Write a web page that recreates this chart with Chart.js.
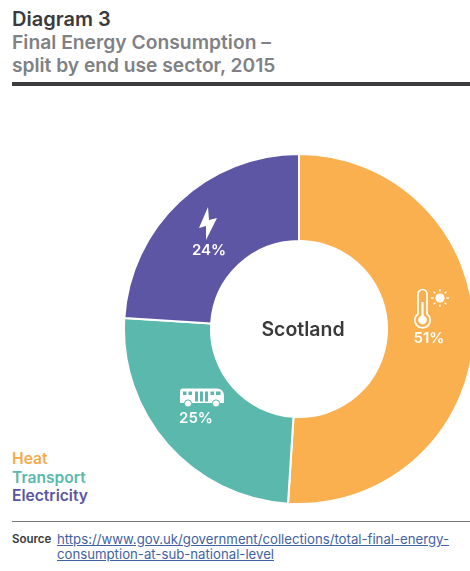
<!DOCTYPE html>
<html>
<head>
<meta charset="utf-8">
<script src="https://cdn.jsdelivr.net/npm/chart.js@4"></script>
<style>
  html, body { margin: 0; padding: 0; background: #fff; }
  body { position: relative; width: 470px; height: 571px; overflow: hidden; font-family: Inter, Lato, sans-serif; }
  .t { position: absolute; white-space: nowrap; line-height: 1; font-weight: 600; }
  #ring { position: absolute; left: 123px; top: 153px; width: 352px; height: 352px; }
  .rule { position: absolute; left: 12px; right: 0; }
  .ico { position: absolute; overflow: visible; }
  a { color: #3f62a3; text-decoration: underline; font-weight: 400; }
</style>
</head>
<body>
<div class="t" style="left:12px;top:9px;font-size:20px;color:#3a3a3c">Diagram 3</div>
<div class="t" style="left:12px;top:33px;font-size:19.3px;color:#808184">Final Energy Consumption –</div>
<div class="t" style="left:12px;top:56px;font-size:19.2px;color:#808184">split by end use sector, 2015</div>
<div class="rule" style="top:82px;height:4px;background:#3d3d3f"></div>

<div id="ring"><canvas id="c" width="352" height="352"></canvas></div>

<div class="t" style="left:303px;top:320px;font-size:19.5px;color:#3a3a3c;transform:translateX(-50%)">Scotland</div>

<!-- Sector icons -->
<svg class="ico" style="left:199px;top:207px" width="18" height="33" viewBox="0 0 18 33">
  <path d="M9 0 L0 21 L7 19 L7 33 L18 11 L10 13 Z" fill="#fff"/>
</svg>
<svg class="ico" style="left:413px;top:288px" width="40" height="42" viewBox="0 0 40 42">
  <path d="M5 26 V6 a4.5 4.5 0 0 1 9 0 V26 a7.7 7.7 0 1 1 -9 0 Z" fill="none" stroke="#fff" stroke-width="1.7"/>
  <circle cx="9.5" cy="32" r="4.4" fill="#fff"/>
  <rect x="8.4" y="14" width="2.2" height="16" fill="#fff"/>
  <circle cx="27" cy="10" r="4.6" fill="#fff"/>
  <path d="M27 1 V3.5 M27 16.5 V19 M18 10 H20.5 M33.5 10 H36 M20.6 3.6 L22.4 5.4 M31.6 14.6 L33.4 16.4 M20.6 16.4 L22.4 14.6 M31.6 5.4 L33.4 3.6" stroke="#fff" stroke-width="1.3" fill="none"/>
</svg>
<svg class="ico" style="left:179px;top:388px" width="46" height="20" viewBox="0 0 46 20">
  <path d="M4 0.5 H38 Q44 0.5 45 7 V15 H1 V3.5 Q1 0.5 4 0.5 Z" fill="#fff"/>
  <g fill="#5bb8ad">
    <rect x="4" y="3.5" width="3.5" height="3.5"/><rect x="9.5" y="3.5" width="3.5" height="3.5"/>
    <rect x="16" y="3.5" width="3" height="10"/><rect x="21" y="3.5" width="3" height="10"/><rect x="26" y="3.5" width="3" height="10"/>
    <rect x="31.5" y="3.5" width="3.5" height="3.5"/><rect x="37" y="3.5" width="4.5" height="3.5"/>
  </g>
  <circle cx="9" cy="15.5" r="3.6" fill="#fff" stroke="#5bb8ad" stroke-width="1"/>
  <circle cx="37" cy="15.5" r="3.6" fill="#fff" stroke="#5bb8ad" stroke-width="1"/>
</svg>

<div id="labels"></div>
<div id="legend"></div>

<div class="rule" style="top:521px;height:1px;background:#77787b"></div>
<div class="t" style="left:12px;top:534px;font-size:11.5px;color:#3a3a3c">Source</div>
<div class="t" style="left:57px;top:532px;font-size:13.2px;line-height:15px"><a>https://www.gov.uk/government/collections/total-final-energy-<br>consumption-at-sub-national-level</a></div>

<script>
// End-use sectors and their share of final energy consumption (%)
const sectors = ['Heat', 'Transport', 'Electricity'];
const shares = [51, 25, 24];
const sectorColors = ['#fab04e', '#5bb8ad', '#5c56a5'];
const legendColors = ['#f9a94a', '#5bb8ad', '#5a54a3'];
const centreCut = '50.3%';

new Chart(document.getElementById('c'), {
  type: 'doughnut',
  data: {
    labels: sectors,
    datasets: [{
      data: shares,
      backgroundColor: sectorColors,
      borderColor: '#ffffff',
      borderWidth: 2,
      borderAlign: 'center'
    }]
  },
  options: {
    responsive: false,
    animation: false,
    cutout: centreCut,
    layout: { padding: 0 },
    plugins: { legend: { display: false }, tooltip: { enabled: false } }
  }
});

// Percentage captions sit under each sector's icon
const labelSpots = [[429, 330], [196, 410], [209, 242]];
const labels = document.getElementById('labels');
shares.forEach((v, i) => {
  const el = document.createElement('div');
  el.className = 't';
  el.textContent = v + '%';
  el.style.cssText = `left:${labelSpots[i][0]}px;top:${labelSpots[i][1]}px;font-size:15px;color:#fff;transform:translateX(-50%)`;
  labels.appendChild(el);
});

// Colour-coded sector key, bottom left
const legend = document.getElementById('legend');
sectors.forEach((name, i) => {
  const el = document.createElement('div');
  el.className = 't';
  el.textContent = name;
  el.style.cssText = `left:12px;top:${451 + i * 18.5}px;font-size:15.6px;color:${legendColors[i]}`;
  legend.appendChild(el);
});
</script>
</body>
</html>
